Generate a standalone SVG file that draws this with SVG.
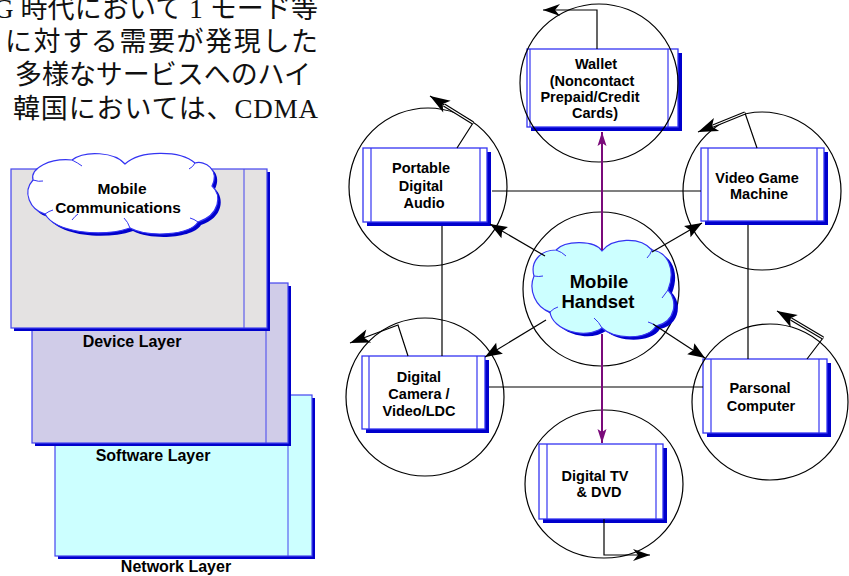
<svg xmlns="http://www.w3.org/2000/svg" width="849" height="576" viewBox="0 0 849 576">
<style>
.jp{font-family:"Liberation Serif","Noto Sans CJK JP",serif;font-size:27px;fill:#111}
.lbl{font-family:"Liberation Sans",Arial,sans-serif;font-weight:bold;font-size:14.5px;text-anchor:middle;fill:#000}
.lay{font-family:"Liberation Sans",Arial,sans-serif;font-weight:bold;font-size:16px;text-anchor:middle;fill:#000}
.big{font-family:"Liberation Sans",Arial,sans-serif;font-weight:bold;font-size:18.5px;text-anchor:middle;fill:#000}
.sh{fill:#0000cc}
.box{fill:#fff;stroke:#3434f2;stroke-width:1.3}
.in{stroke:#3434f2;stroke-width:1.2}
.ring{fill:none;stroke:#000;stroke-width:1.2}
.ln{fill:none;stroke:#000;stroke-width:1.2}
.pl{fill:none;stroke:#7a0a7a;stroke-width:2}
.cl{stroke:#3434f2;stroke-width:1.2}
.crease{fill:none;stroke:#3434f2;stroke-width:1}
</style>
<defs>
<marker id="ah" viewBox="-19 -8 21 16" markerWidth="21" markerHeight="16" refX="0" refY="0" markerUnits="userSpaceOnUse" orient="auto">
<path d="M0,0 L-17,-6.5 L-14,0 L-17,6.5 Z" fill="#000"/>
</marker>
<marker id="ap" viewBox="-16 -6 18 12" markerWidth="18" markerHeight="12" refX="0" refY="0" markerUnits="userSpaceOnUse" orient="auto">
<path d="M0,0 L-14,-4.5 L-11,0 L-14,4.5 Z" fill="#7a0a7a"/>
</marker>
<marker id="ac" viewBox="-22 -8 24 16" markerWidth="24" markerHeight="16" refX="0" refY="0" markerUnits="userSpaceOnUse" orient="auto">
<path d="M0,0 L-20,-7 L-15,0 L-20,7 Z" fill="#000"/>
</marker>
<marker id="as" viewBox="-18 -7 20 14" markerWidth="20" markerHeight="14" refX="0" refY="0" markerUnits="userSpaceOnUse" orient="auto">
<path d="M0,0 L-17,-6 L-12,0 L-17,6 Z" fill="#000"/>
</marker>
<path id="cloudA" d="M 602 251 C 595 240, 565 240, 556 250 C 540 250, 530 262, 534 276 C 528 290, 536 308, 550 312 C 552 330, 585 340, 602 328 C 615 340, 648 340, 656 326 C 676 322, 678 300, 668 290 C 676 270, 668 252, 652 250 C 640 236, 612 238, 602 251 Z"/>
<path id="cloudB" d="M 125 164 C 115 152, 85 150, 72 160 C 50 158, 30 168, 33 180 C 22 192, 30 210, 45 214 C 55 232, 100 238, 130 228 C 150 238, 190 235, 198 222 C 220 215, 222 195, 212 186 C 220 170, 205 160, 195 163 C 180 150, 140 150, 125 164 Z"/>
</defs>

<g id="text-jp">
<text class="jp" x="-6" y="18" textLength="324" lengthAdjust="spacing">G 時代において 1 モード等</text>
<text class="jp" x="5" y="51" textLength="313" lengthAdjust="spacing">に対する需要が発現した</text>
<text class="jp" x="15" y="84" textLength="296" lengthAdjust="spacing">多様なサービスへのハイ</text>
<text class="jp" x="13" y="118" textLength="305" lengthAdjust="spacing">韓国においては、CDMA</text>
</g>

<g id="network-layer">
<rect class="sh" x="58" y="398" width="257" height="161"/>
<rect x="55" y="395" width="257" height="161" fill="#ccffff" stroke="#4444ee" stroke-width="1.2"/>
<line x1="288" y1="395" x2="288" y2="556" stroke="#4444ee" stroke-width="1"/>
<text class="lay" x="176" y="572">Network Layer</text>
</g>
<g id="software-layer">
<rect class="sh" x="35" y="286" width="256" height="160"/>
<rect x="32" y="283" width="256" height="160" fill="#d0cce8" stroke="#4444ee" stroke-width="1.2"/>
<line x1="266" y1="283" x2="266" y2="443" stroke="#4444ee" stroke-width="1"/>
<text class="lay" x="153" y="461">Software Layer</text>
</g>
<g id="device-layer">
<rect class="sh" x="14" y="172" width="256" height="159"/>
<rect x="11" y="169" width="256" height="159" fill="#e4e2e2" stroke="#4444ee" stroke-width="1.2"/>
<line x1="244" y1="169" x2="244" y2="328" stroke="#4444ee" stroke-width="1"/>
<text class="lay" x="132" y="347">Device Layer</text>
</g>
<g id="mobile-communications">
<use href="#cloudB" class="sh" transform="translate(3,3)"/>
<use href="#cloudB" fill="#ffffff" class="cl"/>
<path class="crease" d="M72 160 q6 3 10 6 M33 180 q6 2 10 1 M45 214 q4 -3 8 -4 M130 228 q-2 -6 -6 -10 M72 220 q3 -4 6 -6 M198 222 q-4 -3 -8 -4 M195 163 q-2 4 -6 6"/>
<text class="lay" x="122" y="194" style="font-size:15.5px">Mobile</text>
<text class="lay" x="118" y="213" style="font-size:15.5px">Communications</text>
</g>

<g id="wallet">
<rect class="sh" x="531" y="53" width="151" height="78"/>
<rect class="box" x="527" y="49" width="151" height="78"/>
<line class="in" x1="530" y1="49" x2="530" y2="127"/>
<line class="in" x1="668" y1="49" x2="668" y2="127"/>
<circle class="ring" cx="599" cy="83" r="79"/>
<text class="lbl"><tspan x="596" y="69">Wallet</tspan><tspan x="592" y="86">(Noncontact</tspan><tspan x="590" y="102">Prepaid/Credit</tspan><tspan x="595" y="118">Cards)</tspan></text>
</g>

<g id="portable-audio">
<rect class="sh" x="367" y="152" width="124" height="74"/>
<rect class="box" x="363" y="148" width="124" height="74"/>
<line class="in" x1="371" y1="148" x2="371" y2="222"/>
<line class="in" x1="480" y1="148" x2="480" y2="222"/>
<circle class="ring" cx="428" cy="187" r="79"/>
<text class="lbl"><tspan x="421" y="173">Portable</tspan><tspan x="421" y="191">Digital</tspan><tspan x="424" y="208">Audio</tspan></text>
</g>

<g id="video-game">
<rect class="sh" x="705" y="152" width="123" height="73"/>
<rect class="box" x="701" y="148" width="123" height="73"/>
<line class="in" x1="708" y1="148" x2="708" y2="221"/>
<line class="in" x1="817" y1="148" x2="817" y2="221"/>
<circle class="ring" cx="762" cy="191" r="79"/>
<text class="lbl"><tspan x="757" y="183">Video Game</tspan><tspan x="759" y="199">Machine</tspan></text>
</g>

<g id="mobile-handset">
<ellipse class="ring" cx="601" cy="289" rx="78" ry="77"/>
<use href="#cloudA" class="sh" transform="translate(4,3)"/>
<use href="#cloudA" fill="#ccffff" class="cl"/>
<path class="crease" d="M556 250 q6 2 10 6 M534 276 q5 1 9 0 M550 312 q4 -4 8 -5 M602 328 q-3 -6 -8 -10 M656 326 q-4 -3 -8 -4 M668 290 q-3 4 -6 8 M652 250 q-2 5 -5 8"/>
<text class="big" x="599" y="288">Mobile</text>
<text class="big" x="598" y="308">Handset</text>
</g>

<g id="digital-camera">
<rect class="sh" x="366" y="360" width="123" height="73"/>
<rect class="box" x="362" y="356" width="123" height="73"/>
<line class="in" x1="369" y1="356" x2="369" y2="429"/>
<line class="in" x1="477" y1="356" x2="477" y2="429"/>
<circle class="ring" cx="425" cy="397" r="79"/>
<text class="lbl"><tspan x="419" y="382">Digital</tspan><tspan x="419" y="399">Camera /</tspan><tspan x="419" y="416">Video/LDC</tspan></text>
</g>

<g id="personal-computer">
<rect class="sh" x="707" y="363" width="124" height="74"/>
<rect class="box" x="703" y="359" width="124" height="74"/>
<line class="in" x1="711" y1="359" x2="711" y2="433"/>
<line class="in" x1="819" y1="359" x2="819" y2="433"/>
<circle class="ring" cx="770" cy="402" r="78"/>
<text class="lbl"><tspan x="760" y="393">Parsonal</tspan><tspan x="761" y="411">Computer</tspan></text>
</g>

<g id="digital-tv">
<rect class="sh" x="543" y="448" width="124" height="75"/>
<rect class="box" x="539" y="444" width="124" height="75"/>
<line class="in" x1="547" y1="444" x2="547" y2="519"/>
<line class="in" x1="656" y1="444" x2="656" y2="519"/>
<ellipse class="ring" cx="604" cy="484" rx="79" ry="74"/>
<text class="lbl"><tspan x="595" y="481">Digital TV</tspan><tspan x="599" y="497">&amp; DVD</tspan></text>
</g>

<g id="connectors">
<line class="ln" x1="492" y1="191" x2="701" y2="191"/>
<line class="ln" x1="489" y1="387" x2="703" y2="387"/>
<line class="ln" x1="442" y1="226" x2="442" y2="356"/>
<line class="ln" x1="748" y1="225" x2="748" y2="359"/>
<line class="pl" x1="602" y1="250" x2="602" y2="132" marker-end="url(#ap)"/>
<line class="pl" x1="602" y1="334" x2="602" y2="443" marker-end="url(#ap)"/>
<line class="ln" x1="545" y1="256" x2="490" y2="224" marker-end="url(#ah)"/>
<line class="ln" x1="652" y1="252" x2="702" y2="223" marker-end="url(#ah)"/>
<line class="ln" x1="546" y1="320" x2="485" y2="357" marker-end="url(#ah)"/>
<line class="ln" x1="653" y1="324" x2="705" y2="358" marker-end="url(#ah)"/>
<polyline class="ln" points="597,49 597,10 543,10" marker-end="url(#as)"/>
<polyline class="ln" points="457,148 473,123 430,96" marker-end="url(#ac)"/>
<line x1="473" y1="123" x2="444" y2="105" stroke="#000" stroke-width="3.4"/>
<line x1="473" y1="123" x2="444" y2="105" stroke="#fff" stroke-width="1.1"/>
<polyline class="ln" points="757,148 745,113 698,132" marker-end="url(#ac)"/>
<line x1="745" y1="113" x2="713" y2="126" stroke="#000" stroke-width="3.4"/>
<line x1="745" y1="113" x2="713" y2="126" stroke="#fff" stroke-width="1.1"/>
<polyline class="ln" points="807,359 823,338 777,311" marker-end="url(#ac)"/>
<line x1="823" y1="338" x2="791" y2="319" stroke="#000" stroke-width="3.4"/>
<line x1="823" y1="338" x2="791" y2="319" stroke="#fff" stroke-width="1.1"/>
<polyline class="ln" points="408,356 398,325 350,343" marker-end="url(#ac)"/>
<polyline class="ln" points="604,519 604,555 650,555" marker-end="url(#as)"/>
</g>
</svg>
